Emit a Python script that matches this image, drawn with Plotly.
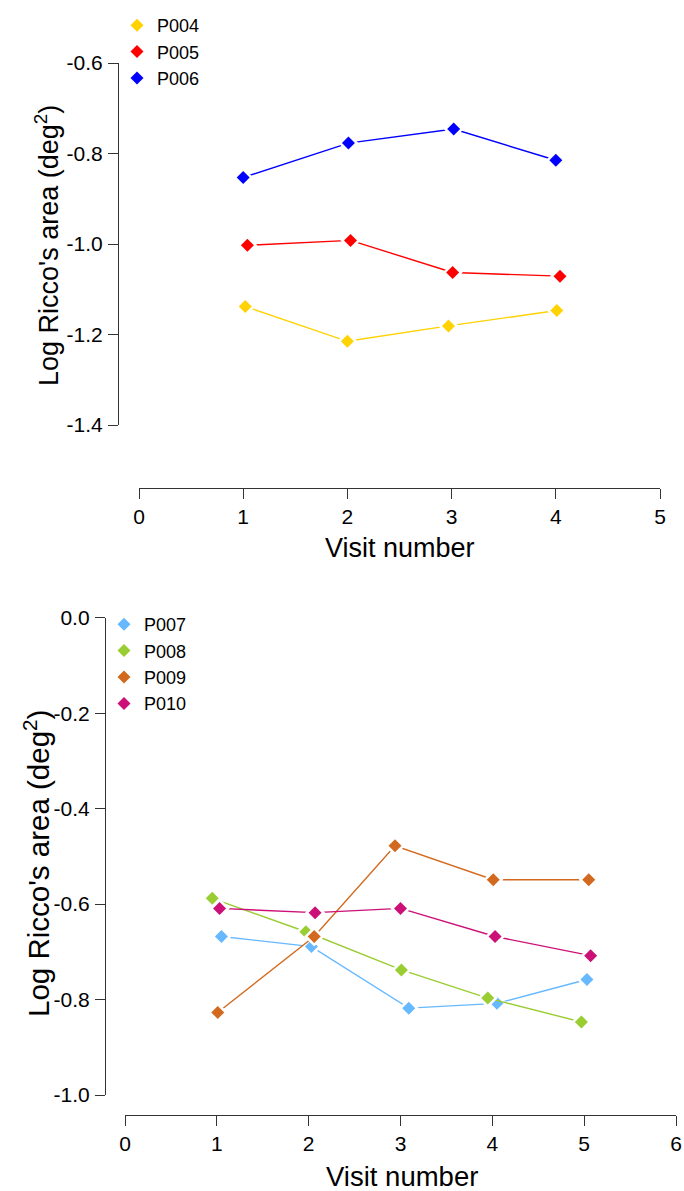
import plotly.graph_objects as go

W, H = 684, 1191
FONT = "Liberation Sans, Arial, sans-serif"
AXIS_COLOR = "#333333"

# ---- Top panel: subjects P004-P006 ----
top_names = ["P004", "P005", "P006"]
top_colors = ["#FFD200", "#FF0000", "#0000FF"]
p004_x = [1.02, 2.00, 2.97, 4.01]
p004_y = [-1.138, -1.215, -1.181, -1.147]
p005_x = [1.04, 2.03, 3.01, 4.04]
p005_y = [-1.003, -0.992, -1.063, -1.071]
p006_x = [1.00, 2.01, 3.02, 4.00]
p006_y = [-0.853, -0.777, -0.746, -0.815]

# ---- Bottom panel: subjects P007-P010 ----
bottom_names = ["P007", "P008", "P009", "P010"]
bottom_colors = ["#66B8FF", "#9ACD32", "#D2691E", "#CC1077"]
p007_x = [1.05, 2.03, 3.09, 4.05, 5.03]
p007_y = [-0.668, -0.689, -0.818, -0.808, -0.758]
p008_x = [0.95, 1.97, 3.01, 3.95, 4.97]
p008_y = [-0.588, -0.658, -0.738, -0.797, -0.847]
p009_x = [1.01, 2.06, 2.94, 4.01, 5.05]
p009_y = [-0.827, -0.668, -0.478, -0.549, -0.549]
p010_x = [1.03, 2.07, 3.00, 4.03, 5.07]
p010_y = [-0.609, -0.618, -0.609, -0.668, -0.708]

# Tick labels
top_xticks = [0, 1, 2, 3, 4, 5]
top_yticks = [-1.4, -1.2, -1.0, -0.8, -0.6]
top_ytext = ["-1.4", "-1.2", "-1.0", "-0.8", "-0.6"]
bottom_xticks = [0, 1, 2, 3, 4, 5, 6]
bottom_yticks = [-1.0, -0.8, -0.6, -0.4, -0.2, 0.0]
bottom_ytext = ["-1.0", "-0.8", "-0.6", "-0.4", "-0.2", "0.0"]

x_title = "Visit number"
y_title = "Log Ricco's area (deg<sup>2</sup>)"


def px(xp):
    return xp / W


def py(yp):
    return 1 - yp / H


fig = go.Figure()


def add_series(name, color, xs, ys, xref, yref, legend):
    # connecting line
    fig.add_trace(go.Scatter(
        x=xs, y=ys, mode="lines", xaxis=xref, yaxis=yref,
        line=dict(color=color, width=1.4),
        showlegend=False, hoverinfo="skip", cliponaxis=False,
    ))
    # white halo that leaves a small gap between line and marker
    fig.add_trace(go.Scatter(
        x=xs, y=ys, mode="markers", xaxis=xref, yaxis=yref,
        marker=dict(symbol="diamond", size=15.5, color="white"),
        showlegend=False, hoverinfo="skip", cliponaxis=False,
    ))
    # diamond markers
    fig.add_trace(go.Scatter(
        x=xs, y=ys, name=name, mode="markers",
        xaxis=xref, yaxis=yref, legend=legend,
        marker=dict(symbol="diamond", size=10, color=color),
        cliponaxis=False,
    ))


for n, c, xs, ys in zip(top_names, top_colors,
                        [p004_x, p005_x, p006_x], [p004_y, p005_y, p006_y]):
    add_series(n, c, xs, ys, "x", "y", "legend")

for n, c, xs, ys in zip(bottom_names, bottom_colors,
                        [p007_x, p008_x, p009_x, p010_x],
                        [p007_y, p008_y, p009_y, p010_y]):
    add_series(n, c, xs, ys, "x2", "y2", "legend2")

axis_common = dict(
    showline=True, linecolor=AXIS_COLOR, linewidth=1.3,
    ticks="outside", ticklen=10, tickwidth=1.3, tickcolor=AXIS_COLOR,
    showgrid=False, zeroline=False, automargin=False,
    tickfont=dict(family=FONT, size=21, color="black"),
    anchor="free", fixedrange=True,
)

legend_common = dict(
    font=dict(family=FONT, size=18, color="black"),
    bgcolor="rgba(0,0,0,0)", borderwidth=0,
    xanchor="left", yanchor="top",
    itemclick=False, itemdoubleclick=False,
)

fig.update_layout(
    template="none",
    width=W, height=H,
    margin=dict(l=0, r=0, t=0, b=0, autoexpand=False),
    paper_bgcolor="white", plot_bgcolor="white",
    font=dict(family=FONT, color="black"),
    xaxis=dict(axis_common, domain=[px(139), px(660)], range=[0, 5],
               tickvals=top_xticks, position=py(488)),
    yaxis=dict(axis_common, domain=[py(425), py(63)], range=[-1.4, -0.6],
               tickvals=top_yticks, ticktext=top_ytext, position=px(118),
               ticklabelstandoff=1),
    xaxis2=dict(axis_common, domain=[px(125), px(676)], range=[0, 6],
                tickvals=bottom_xticks, position=py(1115)),
    yaxis2=dict(axis_common, domain=[py(1095), py(617.7)], range=[-1.0, 0.0],
                tickvals=bottom_yticks, ticktext=bottom_ytext, position=px(105),
                ticklabelstandoff=1),
    legend=dict(legend_common, x=px(117), y=py(7)),
    legend2=dict(legend_common, x=px(104), y=py(606)),
    showlegend=True,
)


def title(text, x, y, size, angle=0):
    fig.add_annotation(text=text, xref="paper", yref="paper",
                       x=px(x), y=py(y), xanchor="center", yanchor="middle",
                       textangle=angle, showarrow=False,
                       font=dict(family=FONT, size=size, color="black"))


title(x_title, 400, 548, 27)
title(y_title, 47, 246, 27, -90)
title(x_title, 402, 1176, 27.5)
title(y_title, 36, 864, 29.5, -90)

fig.write_html("out.html")
